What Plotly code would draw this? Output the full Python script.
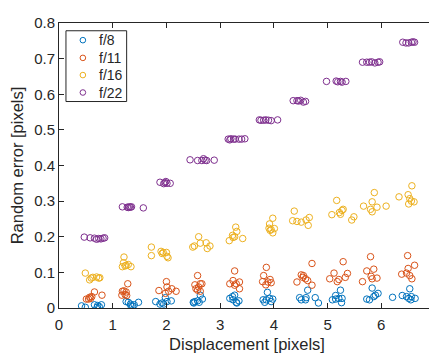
import plotly.graph_objects as go

# ---- data ----
series_names = ["f/8", "f/11", "f/16", "f/22"]

f8_x = [0.42, 0.49, 0.66, 0.71, 0.72, 0.75, 0.79,
        1.25, 1.29, 1.33, 1.34, 1.37, 1.40, 1.48,
        1.80, 1.88, 1.92, 1.95, 1.98, 2.01, 2.09,
        2.50, 2.51, 2.53, 2.58, 2.61, 2.63, 2.67,
        3.18, 3.23, 3.24, 3.27, 3.30, 3.31, 3.35,
        3.80, 3.83, 3.86, 3.88, 3.92, 3.95, 3.98,
        4.48, 4.51, 4.59, 4.60, 4.63, 4.77, 4.83,
        5.09, 5.15, 5.15, 5.21, 5.24, 5.26, 5.27,
        5.73, 5.78, 5.83, 5.86, 5.89, 5.94, 6.21,
        6.39, 6.47, 6.51, 6.53, 6.55, 6.56, 6.63]
f8_y = [0.006, 0.002, 0.009, 0.002, 0.007, 0.004, 0.009,
        0.018, 0.016, 0.011, 0.006, 0.005, 0.009, 0.016,
        0.018, 0.011, 0.014, 0.011, 0.029, 0.018, 0.020,
        0.016, 0.014, 0.018, 0.020, 0.016, 0.036, 0.025,
        0.027, 0.032, 0.023, 0.036, 0.016, 0.014, 0.020,
        0.023, 0.016, 0.023, 0.044, 0.027, 0.018, 0.025,
        0.029, 0.023, 0.023, 0.029, 0.050, 0.029, 0.014,
        0.023, 0.035, 0.025, 0.027, 0.050, 0.015, 0.027,
        0.025, 0.023, 0.056, 0.032, 0.036, 0.041, 0.030,
        0.035, 0.032, 0.027, 0.054, 0.023, 0.032, 0.027]

f11_x = [0.51, 0.55, 0.57, 0.59, 0.61, 0.66, 0.80,
         1.17, 1.18, 1.21, 1.23, 1.25, 1.26, 1.28,
         1.86, 1.98, 2.00, 2.01, 2.04, 2.10, 2.18,
         2.53, 2.55, 2.58, 2.58, 2.60, 2.63, 2.63, 2.66,
         3.18, 3.24, 3.27, 3.27, 3.30, 3.36, 3.36,
         3.79, 3.81, 3.85, 3.86, 3.89, 3.93, 3.95,
         4.43, 4.51, 4.54, 4.55, 4.59, 4.63, 4.71, 4.71,
         5.04, 5.12, 5.18, 5.21, 5.29, 5.33, 5.37,
         5.65, 5.73, 5.80, 5.81, 5.83, 5.86, 5.92,
         6.38, 6.47, 6.49, 6.50, 6.53, 6.57, 6.62]
f11_y = [0.025, 0.025, 0.030, 0.027, 0.032, 0.045, 0.036,
         0.036, 0.047, 0.048, 0.038, 0.045, 0.035, 0.068,
         0.049, 0.041, 0.074, 0.059, 0.047, 0.054, 0.047,
         0.065, 0.054, 0.091, 0.050, 0.059, 0.068, 0.047, 0.068,
         0.068, 0.077, 0.104, 0.064, 0.068, 0.073, 0.054,
         0.074, 0.091, 0.065, 0.114, 0.073, 0.080, 0.071,
         0.073, 0.093, 0.086, 0.091, 0.082, 0.077, 0.125, 0.064,
         0.082, 0.098, 0.074, 0.080, 0.130, 0.086, 0.097,
         0.074, 0.104, 0.144, 0.089, 0.082, 0.109, 0.084,
         0.095, 0.098, 0.147, 0.111, 0.091, 0.082, 0.120]

f16_x = [0.49, 0.57, 0.60, 0.63, 0.70, 0.74, 0.76,
         1.18, 1.20, 1.21, 1.23, 1.25, 1.29, 1.34,
         1.72, 1.72, 1.90, 1.92, 1.94, 2.00, 2.01, 2.03,
         2.49, 2.52, 2.60, 2.63, 2.74, 2.76, 2.81,
         3.17, 3.23, 3.24, 3.27, 3.29, 3.31, 3.42,
         3.91, 3.92, 3.93, 3.95, 3.98, 3.98, 4.01,
         4.35, 4.38, 4.43, 4.51, 4.60, 4.64, 4.66,
         5.08, 5.17, 5.22, 5.24, 5.27, 5.29, 5.45, 5.49,
         5.67, 5.80, 5.83, 5.83, 5.87, 5.92, 6.09,
         6.33, 6.50, 6.51, 6.53, 6.56, 6.57, 6.61]
f16_y = [0.098, 0.079, 0.084, 0.086, 0.087, 0.084, 0.085,
         0.116, 0.127, 0.143, 0.118, 0.120, 0.122, 0.116,
         0.171, 0.147, 0.159, 0.153, 0.156, 0.156, 0.145, 0.141,
         0.171, 0.174, 0.200, 0.182, 0.183, 0.167, 0.174,
         0.189, 0.204, 0.198, 0.200, 0.227, 0.215, 0.195,
         0.224, 0.236, 0.218, 0.220, 0.252, 0.211, 0.223,
         0.245, 0.272, 0.243, 0.241, 0.247, 0.232, 0.254,
         0.262, 0.302, 0.268, 0.263, 0.274, 0.277, 0.247, 0.256,
         0.286, 0.277, 0.298, 0.270, 0.324, 0.283, 0.286,
         0.312, 0.318, 0.292, 0.307, 0.300, 0.343, 0.298]

f22_x = [0.47, 0.58, 0.66, 0.70, 0.74, 0.78, 0.82, 0.85,
         1.18, 1.27, 1.29, 1.31, 1.33, 1.35, 1.57,
         1.88, 1.95, 1.97, 1.99, 2.01, 2.07,
         2.44, 2.58, 2.66, 2.69, 2.72, 2.75, 2.89,
         3.15, 3.18, 3.20, 3.25, 3.28, 3.35, 3.40, 3.46,
         3.73, 3.76, 3.81, 3.85, 3.90, 3.95, 4.07,
         4.36, 4.43, 4.46, 4.50, 4.55, 4.59,
         4.98, 5.16, 5.19, 5.24, 5.27, 5.34,
         5.65, 5.73, 5.78, 5.82, 5.88, 5.94, 5.97,
         6.40, 6.46, 6.51, 6.56, 6.59, 6.62]
f22_y = [0.199, 0.197, 0.196, 0.193, 0.195, 0.194, 0.196, 0.197,
         0.284, 0.283, 0.282, 0.284, 0.283, 0.284, 0.281,
         0.353, 0.349, 0.352, 0.355, 0.350, 0.350,
         0.416, 0.414, 0.414, 0.419, 0.415, 0.414, 0.415,
         0.474, 0.472, 0.475, 0.474, 0.474, 0.474, 0.474, 0.475,
         0.528, 0.527, 0.527, 0.528, 0.527, 0.526, 0.528,
         0.582, 0.582, 0.581, 0.583, 0.578, 0.580,
         0.636, 0.637, 0.635, 0.636, 0.634, 0.636,
         0.690, 0.690, 0.690, 0.691, 0.688, 0.690, 0.691,
         0.746, 0.744, 0.744, 0.746, 0.747, 0.746]

x_ticks = [0, 1, 2, 3, 4, 5, 6, 7]
y_ticks = [0, 0.1, 0.2, 0.3, 0.4, 0.5, 0.6, 0.7, 0.8]
y_tick_labels = ["0", "0.1", "0.2", "0.3", "0.4", "0.5", "0.6", "0.7", "0.8"]

colors = ["#0072BD", "#D95319", "#EDB120", "#7E2F8E"]
xs = [f8_x, f11_x, f16_x, f22_x]
ys = [f8_y, f11_y, f16_y, f22_y]

FONT = "Liberation Sans, Arial, Helvetica, sans-serif"
AX = "#262626"

fig = go.Figure()
for name, x, y, c in zip(series_names, xs, ys, colors):
    fig.add_trace(go.Scatter(
        x=x, y=y, mode="markers", name=name, showlegend=False,
        marker=dict(symbol="circle-open", size=6.5, color=c,
                    line=dict(width=1, color=c)),
    ))

axis_common = dict(
    showgrid=False, zeroline=False, showline=True, linecolor=AX,
    linewidth=1, mirror="ticks", ticks="inside", ticklen=5,
    tickcolor=AX, tickfont=dict(family=FONT, size=15, color=AX),
    ticklabeloverflow="allow",
)

# ---- MATLAB-style legend box (paper coordinates) ----
leg_x0, leg_x1, leg_y0, leg_y1 = 0.0185, 0.1799, 0.7245, 0.9728
leg_marker_x, leg_text_x = 0.0635, 0.100
leg_rows = [0.9398, 0.8776, 0.8173, 0.7561]

shapes = [dict(type="rect", xref="paper", yref="paper",
               x0=leg_x0, x1=leg_x1, y0=leg_y0, y1=leg_y1,
               line=dict(color=AX, width=1), fillcolor="white", layer="above")]
annotations = []
for name, c, ry in zip(series_names, colors, leg_rows):
    shapes.append(dict(type="circle", xref="paper", yref="paper",
                       xsizemode="pixel", ysizemode="pixel",
                       xanchor=leg_marker_x, yanchor=ry,
                       x0=-2.8, x1=2.8, y0=-2.8, y1=2.8,
                       line=dict(color=c, width=1), layer="above"))
    annotations.append(dict(xref="paper", yref="paper", x=leg_text_x, y=ry,
                            xanchor="left", yanchor="middle", showarrow=False,
                            text=name, font=dict(family=FONT, size=14, color=AX)))

fig.update_layout(
    width=437, height=349,
    margin=dict(l=51, r=8, t=6, b=49),
    paper_bgcolor="white", plot_bgcolor="white",
    font=dict(family=FONT, color=AX),
    xaxis=dict(range=[0, 7], tickvals=x_ticks, ticktext=[str(v) for v in x_ticks],
               ticklabelstandoff=3,
               title=dict(text="Displacement [pixels]", font=dict(size=16.5, family=FONT, color=AX),
                          standoff=6),
               **axis_common),
    yaxis=dict(range=[0, 0.8], tickvals=y_ticks, ticktext=y_tick_labels,
               title=dict(text="Random error [pixels]", font=dict(size=16.5, family=FONT, color=AX),
                          standoff=8),
               **axis_common),
    shapes=shapes,
    annotations=annotations,
    showlegend=False,
)

fig.write_html("out.html")
